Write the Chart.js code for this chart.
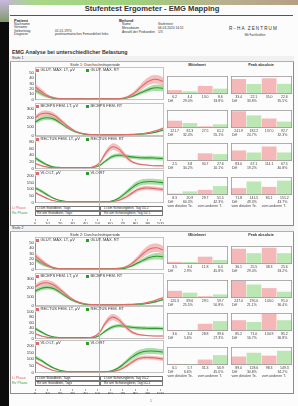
<!DOCTYPE html>
<html>
<head>
<meta charset="utf-8">
<script src="https://cdn.jsdelivr.net/npm/chart.js@4.4.1/dist/chart.umd.min.js"></script>
<style>
html, body { margin: 0; padding: 0; }
body { width: 298px; height: 406px; position: relative; overflow: hidden; background: #0c0c0c;
  font-family: "Liberation Sans", Arial, sans-serif; color: #333; }
.abs { position: absolute; white-space: nowrap; line-height: 1; }
.box { position: absolute; box-sizing: border-box; }
canvas { position: absolute; }
#page { position: absolute; left: 9px; top: 4px; width: 289px; height: 402px; background: #fcfcfc; }
#topstrip { position: absolute; left: 0; top: 0; width: 298px; height: 5px;
  background: linear-gradient(90deg, #c3b3d8 0%, #a8d888 12%, #9fd07c 45%, #b8b090 75%, #b79f84 100%); }
#corner { position: absolute; left: 0; top: 0; width: 9px; height: 22px;
  background: linear-gradient(180deg, #c9b8e0, #7f9a6a); }
</style>
</head>
<body>
<div id="page"></div>
<div id="topstrip"></div>
<div id="corner"></div>
<script>
// x positions (% of period) of every sample
const xPct = [0,5,10,15,20,25,30,35,40,45,50,55,60,65,70,75,80,85,90,95,100];
const axisTicks = [0,10,20,30,40,50,60,70,80,90,100];
const markerAt = 50;

const muscleLi = ["GLUT. MAX. LT, µV", "BICEPS FEM. LT, µV", "RECTUS FEM. LT, µV", "VLO LT, µV"];
const muscleRe = ["GLUT. MAX. RT", "BICEPS FEM. RT", "RECTUS FEM. RT", "VLO RT"];
const s1YMax = [50, 300, 80, 200];
const s1YStep = [10, 100, 20, 50];
const s2YMax = [50, 300, 100, 200];
const s2YStep = [10, 100, 20, 50];

// Stufe 1 curves (mean and spread)
const s1GlutLi   = [24,15,7,3,1.5,1,1,1,1,1,1,1,1,1.5,3,8,17,28,36,38,34];
const s1GlutLiSd = [6,5,3,1.5,0.8,0.6,0.6,0.6,0.6,0.6,0.6,0.6,0.6,0.8,1.5,3,5,7,8,8,8];
const s1GlutRe   = [18,11,5,2,1,1,1,1,1,1,1,1,1,1,2,5,10,15,20,22,21];
const s1GlutReSd = [5,4,2,1,0.6,0.6,0.6,0.6,0.6,0.6,0.6,0.6,0.6,0.6,1,2,3,4,5,6,6];
const s1BicLi    = [200,245,250,225,170,110,60,30,15,10,8,8,8,8,10,12,15,22,35,55,80];
const s1BicLiSd  = [25,30,30,30,25,20,12,8,4,3,3,3,3,3,3,4,5,6,8,10,12];
const s1BicRe    = [150,190,200,185,140,90,50,25,12,8,6,6,6,6,7,9,12,16,25,40,60];
const s1BicReSd  = [20,25,25,25,20,15,10,6,4,3,3,3,3,3,3,3,4,5,6,8,10];
const s1RecLi    = [15,8,4,2,2,2,2,2,2,4,15,45,65,60,40,22,14,11,9,8,8];
const s1RecLiSd  = [3,2,1,1,1,1,1,1,1,2,4,8,10,10,8,5,3,2,2,2,2];
const s1RecRe    = [32,20,10,4,3,3,3,3,3,3,8,22,35,40,38,35,33,32,32,31,30];
const s1RecReSd  = [6,5,3,1,1,1,1,1,1,1,2,4,6,6,6,6,6,6,6,6,6];
const s1VloLi    = [75,50,28,12,6,4,4,4,4,4,4,4,6,14,35,65,95,108,108,104,98];
const s1VloLiSd  = [10,8,6,3,2,2,2,2,2,2,2,2,3,6,10,14,15,15,15,15,15];
const s1VloRe    = [110,85,55,30,14,7,5,5,5,5,5,5,10,30,65,105,140,155,158,155,150];
const s1VloReSd  = [15,12,10,6,3,3,3,3,3,3,3,3,5,10,15,20,22,22,22,22,22];

// Stufe 2 curves
const s2GlutLi   = [26,16,8,3,1.5,1,1,1,1,1,1,1,1,2,4,10,20,31,39,41,37];
const s2GlutLiSd = [6,5,3,1.5,0.8,0.6,0.6,0.6,0.6,0.6,0.6,0.6,0.6,0.8,1.5,3,5,7,8,8,8];
const s2GlutRe   = [20,12,6,2,1,1,1,1,1,1,1,1,1,1,2,6,12,18,23,25,24];
const s2GlutReSd = [5,4,2,1,0.6,0.6,0.6,0.6,0.6,0.6,0.6,0.6,0.6,0.6,1,2,3,4,5,6,6];
const s2BicLi    = [210,250,255,230,175,115,65,32,16,10,8,8,8,8,10,13,17,25,40,62,88];
const s2BicLiSd  = [25,30,30,30,25,20,12,8,4,3,3,3,3,3,3,4,5,6,8,10,12];
const s2BicRe    = [160,195,205,190,145,95,52,26,12,8,6,6,6,6,7,10,13,18,28,45,66];
const s2BicReSd  = [20,25,25,25,20,15,10,6,4,3,3,3,3,3,3,3,4,5,6,8,10];
const s2RecLi    = [18,9,4,2,2,2,2,2,2,5,20,58,80,72,48,26,16,12,10,9,9];
const s2RecLiSd  = [4,2,1,1,1,1,1,1,1,2,5,10,12,12,9,6,4,3,2,2,2];
const s2RecRe    = [38,24,12,5,3,3,3,3,3,3,10,28,42,48,46,42,40,39,38,38,37];
const s2RecReSd  = [7,5,3,1,1,1,1,1,1,1,2,5,7,7,7,7,7,7,7,7,7];
const s2VloLi    = [80,54,30,13,6,4,4,4,4,4,4,5,7,16,40,72,102,112,112,108,102];
const s2VloLiSd  = [10,8,6,3,2,2,2,2,2,2,2,2,3,6,10,14,15,15,15,15,15];
const s2VloRe    = [115,90,58,31,15,7,5,5,5,5,5,6,12,33,70,110,142,158,162,160,155];
const s2VloReSd  = [15,12,10,6,3,3,3,3,3,3,3,3,5,10,15,20,22,22,22,22,22];

// bar values: [Li A, Re A, Li B, Re B]
const s1Mittel     = [[6.2,4.4,13.0,8.6],[121.7,82.3,27.5,61.2],[2.5,3.8,30.7,27.6],[8.3,20.9,29.7,51.5]];
const s1MittelMax  = [29, 300, 72, 104];
const s1MittelDiff = [["29.0%","33.8%"],["32.4%","55.1%"],["34.2%","10.1%"],["60.3%","42.3%"]];
const s1Peak       = [[33.4,22.1,35.0,22.6],[241.9,182.2,137.0,92.7],[83.0,67.1,114.1,67.5],[71.8,141.5,85.1,151.2]];
const s1PeakMax    = [40, 260, 142, 189];
const s1PeakDiff   = [["33.8%","35.5%"],["24.7%","32.3%"],["19.2%","40.8%"],["49.3%","43.7%"]];
const s2Mittel     = [[3.5,3.4,11.8,6.4],[120.3,89.6,29.5,59.7],[3.6,3.4,28.8,39.6],[6.1,5.7,31.3,56.9]];
const s2MittelMax  = [29, 300, 72, 104];
const s2MittelDiff = [["2.9%","45.8%"],["25.5%","50.8%"],["5.6%","27.3%"],["6.6%","45.0%"]];
const s2Peak       = [[36.1,25.5,38.3,25.6],[247.0,195.0,143.0,91.0],[85.2,71.0,134.9,85.2],[89.0,128.6,98.3,149.3]];
const s2PeakMax    = [42.5, 260, 142, 189];
const s2PeakDiff   = [["29.4%","33.2%"],["21.1%","36.4%"],["16.7%","36.8%"],["30.8%","34.2%"]];
const barFooter = ["vom distalen Te.", "vom anderen T."];

const phaseLi = ["Li am Standbein, Tags", "Li am Schwungbein, Tag 50-2"];
const phaseRe = ["Re am Standbein, Tags", "Re am Schwungbein, Tag 50-1"];

const pinkLine = "#dc6b6b", pinkBand = "rgba(240,150,150,0.6)", pinkBar = "#f4b8b8";
const greenLine = "#2f9a2f", greenBand = "rgba(115,200,110,0.6)", greenBar = "#bce6b4";
const markerColor = "#86d486";

Chart.defaults.font.family = "Liberation Sans";
Chart.defaults.animation = false;

function addText(txt, x, y, size, o = {}) {
  const d = document.createElement("div");
  d.className = "abs";
  d.textContent = txt;
  d.style.left = x + "px";
  d.style.top = y + "px";
  d.style.fontSize = size + "px";
  if (o.bold) d.style.fontWeight = "bold";
  if (o.color) d.style.color = o.color;
  if (o.center) d.style.transform = "translateX(-50%)";
  if (o.ls) d.style.letterSpacing = o.ls + "px";
  document.body.appendChild(d);
  return d;
}
function addBox(x, y, w, h, css) {
  const d = document.createElement("div");
  d.className = "box";
  d.style.cssText += `left:${x}px;top:${y}px;width:${w}px;height:${h}px;` + (css || "");
  document.body.appendChild(d);
  return d;
}
function addCanvas(x, y, w, h) {
  const c = document.createElement("canvas");
  c.width = w; c.height = h;
  c.style.left = x + "px"; c.style.top = y + "px";
  c.style.width = w + "px"; c.style.height = h + "px";
  document.body.appendChild(c);
  return c;
}

const framePlugin = {
  id: "frame",
  afterDraw(chart) {
    const a = chart.chartArea, ctx = chart.ctx;
    ctx.save();
    ctx.strokeStyle = "#9a9a9a";
    ctx.lineWidth = 0.8;
    ctx.strokeRect(a.left + 0.4, a.top + 0.4, a.right - a.left - 0.8, a.bottom - a.top - 0.8);
    ctx.restore();
  }
};

// vertical marker at markerAt, drawn over the full canvas height
const markerPlugin = {
  id: "marker",
  afterDatasetsDraw(chart) {
    const x = chart.scales.x.getPixelForValue(markerAt);
    const ctx = chart.ctx;
    ctx.save();
    ctx.strokeStyle = markerColor;
    ctx.lineWidth = 1;
    ctx.beginPath();
    ctx.moveTo(Math.round(x) + 0.5, 0);
    ctx.lineTo(Math.round(x) + 0.5, chart.height);
    ctx.stroke();
    ctx.restore();
  }
};

function band(m, s, k) {
  return xPct.map((x, i) => ({ x, y: Math.max(0, m[i] + k * s[i]) }));
}

function lineChart(canvas, li, liSd, re, reSd, max, step, padTop) {
  const common = { pointRadius: 0, tension: 0.4, borderWidth: 0 };
  return new Chart(canvas, {
    type: "line",
    data: { datasets: [
      { ...common, data: band(li, liSd, 0), borderColor: pinkLine, borderWidth: 1.1, fill: false },
      { ...common, data: band(li, liSd, 1), fill: "+1", backgroundColor: pinkBand },
      { ...common, data: band(li, liSd, -1), fill: false },
      { ...common, data: band(re, reSd, 0), borderColor: greenLine, borderWidth: 1.1, fill: false },
      { ...common, data: band(re, reSd, 1), fill: "+1", backgroundColor: greenBand },
      { ...common, data: band(re, reSd, -1), fill: false }
    ] },
    options: {
      responsive: false, events: [],
      plugins: { legend: { display: false }, tooltip: { enabled: false } },
      layout: { padding: { top: padTop, bottom: 3, left: 0, right: 1 } },
      scales: {
        x: { type: "linear", min: 0, max: 100, display: false },
        y: {
          min: 0, max,
          ticks: { stepSize: step, autoSkip: false, font: { size: 4.3 }, color: "#333", padding: 1 },
          grid: { display: false, drawTicks: false },
          border: { color: "#808080", width: 0.8 },
          afterFit(a) { a.width = 10; }
        }
      }
    },
    plugins: [markerPlugin]
  });
}

function barChart(canvas, vals, max, diffs, footer) {
  const labelPlugin = {
    id: "barLabels",
    afterDraw(chart) {
      const ctx = chart.ctx, a = chart.chartArea;
      const bars = chart.getDatasetMeta(0).data;
      ctx.save();
      ctx.fillStyle = "#444";
      ctx.font = "3.5px 'Liberation Sans'";
      ctx.textAlign = "center";
      ctx.textBaseline = "top";
      bars.forEach((b, i) => ctx.fillText(vals[i].toFixed(1), b.x, a.bottom + 1.2));
      ctx.textAlign = "left";
      ctx.fillText("Diff", a.left + 1, a.bottom + 5);
      ctx.textAlign = "center";
      ctx.fillText(diffs[0], bars[1].x - 2, a.bottom + 5);
      ctx.fillText(diffs[1], bars[3].x - 2, a.bottom + 5);
      if (footer) {
        ctx.textAlign = "left";
        ctx.fillText(footer[0], a.left + 0.5, a.bottom + 9.5);
        ctx.fillText(footer[1], bars[2].x - bars[2].width / 2, a.bottom + 9.5);
      }
      ctx.restore();
    }
  };
  return new Chart(canvas, {
    type: "bar",
    data: { labels: ["Li", "Re", "Li ", "Re "], datasets: [{
      data: vals, backgroundColor: [pinkBar, greenBar, pinkBar, greenBar],
      categoryPercentage: 1, barPercentage: 0.97, borderWidth: 0
    }] },
    options: {
      responsive: false, events: [],
      plugins: { legend: { display: false }, tooltip: { enabled: false } },
      layout: { padding: { top: 0, left: 0, right: 0, bottom: footer ? 15 : 9 } },
      scales: { x: { display: false }, y: { display: false, min: 0, max } }
    },
    plugins: [framePlugin, labelPlugin]
  });
}

function axisChart(canvas) {
  return new Chart(canvas, {
    type: "line",
    data: { datasets: [{ data: [], pointRadius: 0 }] },
    options: {
      responsive: false, events: [],
      plugins: { legend: { display: false }, tooltip: { enabled: false } },
      layout: { padding: { top: 0, left: 10, right: 1, bottom: 0 } },
      scales: {
        x: {
          type: "linear", min: 0, max: 100, position: "bottom",
          afterBuildTicks(s) { s.ticks = axisTicks.map(v => ({ value: v })); },
          ticks: { font: { size: 4.3 }, color: "#333", padding: 0, maxRotation: 0 },
          grid: { drawOnChartArea: false, tickLength: 2, color: "#777", lineWidth: 0.6 },
          border: { display: false }
        },
        y: { display: false }
      }
    }
  });
}

function buildStage(top, name, curves, yMax, yStep, mittel, mittelMax, mittelDiff, peak, peakMax, peakDiff) {
  addBox(10, top, 284, top < 200 ? 170 : 168, "border:1px solid #8c8c8c;");
  addBox(10, top, 284, 6, "border-bottom:1px solid #b0b0b0;background:#f1f1f1;");
  addText(name, 12, top + 1.3, 3.6);
  addText(name + ": Durchschnittsperiode", 95, top + 7.5, 3.8, { center: true });
  addText("Mittelwert", 197, top + 7.5, 3.8, { center: true, bold: true });
  addText("Peak absolute", 261, top + 7.5, 3.8, { center: true, bold: true });

  // phase rows sit under the line charts' marker
  addText("Li Phase", 12, top + 151, 3.5, { color: "#e06a6a" });
  addText("Re Phase", 12, top + 156, 3.5, { color: "#3aa53a" });
  [[phaseLi, 150], [phaseRe, 155]].forEach(([txt, y]) => {
    addBox(35, top + y, 65, 5, "border:0.7px solid #777;background:#fff;");
    addBox(100, top + y, 63, 5, "border:0.7px solid #777;background:#fff;");
    addText(txt[0], 37, top + y + 0.8, 3.4);
    addText(txt[1], 104, top + y + 0.8, 3.4);
  });

  const plotTop = [17, 53, 86, 120];
  const plotH = 27;
  const canvasTop = [11, 47, 80, 114];
  curves.forEach((c, i) => {
    const ly = top + plotTop[i] - 5;
    // light frame round each chart, legend row included
    addBox(35, ly - 1, 129, plotTop[i] + plotH - (plotTop[i] - 6), "border:0.7px solid #c4c4c4;");
    const cv = addCanvas(25, top + canvasTop[i], 139, plotTop[i] - canvasTop[i] + plotH + 3);
    lineChart(cv, c[0], c[1], c[2], c[3], yMax[i], yStep[i], plotTop[i] - canvasTop[i]);
    addBox(36, ly + 0.8, 3, 3, "background:" + pinkLine + ";");
    addText(muscleLi[i], 40.5, ly + 0.4, 4);
    addBox(86, ly + 0.8, 3, 3, "background:" + greenLine + ";");
    addText(muscleRe[i], 90.5, ly + 0.4, 4);
  });
  axisChart(addCanvas(25, top + 158, 139, 10));

  const boxTop = [20, 54, 87, 121];
  for (let r = 0; r < 4; r++) {
    const foot = r === 3 ? barFooter : null;
    const h = 18 + (foot ? 15 : 9);
    barChart(addCanvas(167, top + boxTop[r], 61, h), mittel[r], mittelMax[r], mittelDiff[r], foot);
    barChart(addCanvas(231, top + boxTop[r], 61, h), peak[r], peakMax[r], peakDiff[r], foot);
  }
}

// header
addText("Stufentest Ergometer - EMG Mapping", 152, 5.2, 7.6, { center: true, bold: true });
addBox(10, 14.5, 283, 1, "background:#555;");
addText("Patient", 14, 18.6, 4.2, { bold: true });
["Nachname", "Vorname", "Geburtstag", "Diagnose"].forEach((t, i) => addText(t, 14, 22.7 + i * 3.4, 3.3));
addText("01.01.1970", 55, 29.5, 3.3);
addText("posttraumatisches Femurdefizit links", 55, 32.9, 3.3);
addText("Befund", 119, 19.2, 4.2, { bold: true });
[["Name", "Stufentest"], ["Messdatum", "06.03.2020 14:51"], ["Anzahl der Probanden", "1/3"]].forEach(([k, v], i) => {
  addText(k, 122, 23.4 + i * 3.9, 3.3);
  addText(v, 158, 23.4 + i * 3.9, 3.3);
});
const logo = addText("R", 229, 27.4, 4.6, { ls: 1.1 });
logo.innerHTML = 'R<span style="color:#d04a5a">–</span>HA ZENTRUM';
addText("Mit Fachkräften", 255, 33.6, 3, { center: true });
addText("EMG Analyse bei unterschiedlicher Belastung", 12, 49.8, 5.3, { bold: true });

buildStage(56, "Stufe 1",
  [[s1GlutLi, s1GlutLiSd, s1GlutRe, s1GlutReSd], [s1BicLi, s1BicLiSd, s1BicRe, s1BicReSd],
   [s1RecLi, s1RecLiSd, s1RecRe, s1RecReSd], [s1VloLi, s1VloLiSd, s1VloRe, s1VloReSd]],
  s1YMax, s1YStep, s1Mittel, s1MittelMax, s1MittelDiff, s1Peak, s1PeakMax, s1PeakDiff);
buildStage(226, "Stufe 2",
  [[s2GlutLi, s2GlutLiSd, s2GlutRe, s2GlutReSd], [s2BicLi, s2BicLiSd, s2BicRe, s2BicReSd],
   [s2RecLi, s2RecLiSd, s2RecRe, s2RecReSd], [s2VloLi, s2VloLiSd, s2VloRe, s2VloReSd]],
  s2YMax, s2YStep, s2Mittel, s2MittelMax, s2MittelDiff, s2Peak, s2PeakMax, s2PeakDiff);

addText("1", 150, 400, 3.5, { color: "#777" });
</script>
</body>
</html>
